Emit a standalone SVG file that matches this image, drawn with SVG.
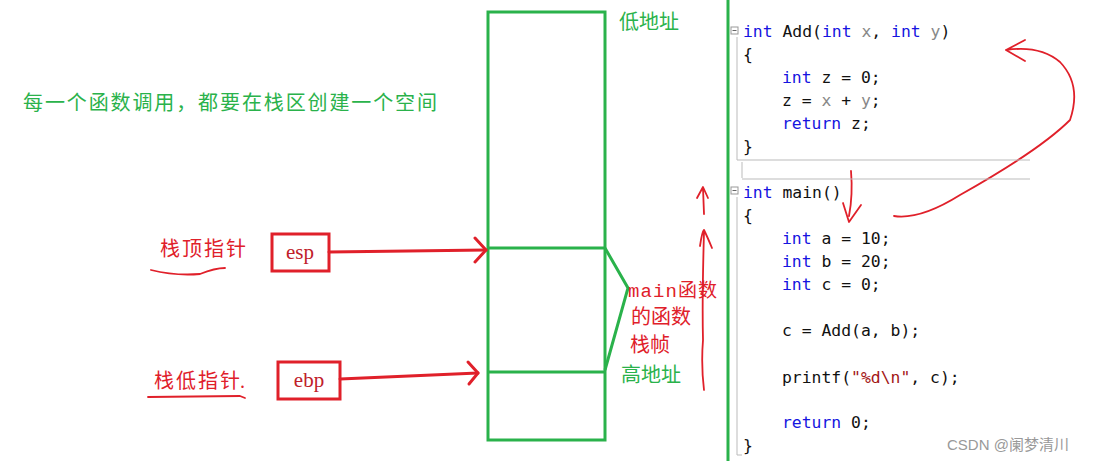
<svg xmlns="http://www.w3.org/2000/svg" width="1097" height="461" viewBox="0 0 1097 461">
<style>
.g{fill:none;stroke:#2ab24b;stroke-width:3}
.r{fill:none;stroke:#e0202a;stroke-width:3;stroke-linecap:round;stroke-linejoin:round}
.rt{fill:none;stroke:#e0202a;stroke-width:1.8;stroke-linecap:round;stroke-linejoin:round}
.gt{fill:#2ab24b;font-family:"Liberation Serif","Noto Sans CJK SC",serif;font-size:20px}
.rl{fill:#e0202a;font-family:"Liberation Serif","Noto Sans CJK SC",serif;font-size:20px}
.rm{fill:#e0202a;font-family:"Liberation Mono","Noto Sans CJK SC",monospace;font-size:19px}
.box{fill:#fff;stroke:#e0202a;stroke-width:3}
.bt{fill:#c0202a;font-family:"Liberation Serif",serif;font-size:21px;text-anchor:middle}
.code{font-family:"DejaVu Sans Mono","Liberation Mono",monospace;font-size:16.4px;fill:#111}
.k{fill:#1515e0}.p{fill:#888}.s{fill:#a31515}
.gut{stroke:#bbb;stroke-width:1;fill:none}
</style>
<rect width="1097" height="461" fill="#fff"/>
<text class="gt" x="23" y="110" textLength="414" lengthAdjust="spacing">每一个函数调用，都要在栈区创建一个空间</text>
<g id="stack">
<rect class="g" x="488" y="12" width="117" height="428"/>
<line class="g" x1="488" y1="248" x2="605" y2="248"/>
<line class="g" x1="488" y1="372" x2="605" y2="372"/>
<polyline class="g" points="605,248 628,288 605,370"/>
<text class="gt" x="619" y="29">低地址</text>
<text class="gt" x="621" y="382">高地址</text>
</g>
<g id="frame-label">
<text class="rm" x="628" y="297" textLength="89" lengthAdjust="spacing">main函数</text>
<text class="rl" x="631" y="324">的函数</text>
<text class="rl" x="630" y="352">栈帧</text>
</g>
<g id="esp-label">
<text class="rl" x="160" y="256" textLength="86" lengthAdjust="spacing">栈顶指针</text>
<path class="rt" d="M151,270 Q175,276 200,274 Q215,268 225,268"/>
</g>
<g id="esp"><rect class="box" x="272" y="234" width="57" height="37"/><text class="bt" x="300" y="259">esp</text></g>
<g id="ebp-label">
<text class="rl" x="154" y="388" textLength="86" lengthAdjust="spacing">栈低指针</text>
<text class="rl" x="240" y="388">.</text>
<path class="rt" d="M148,397 L240,396 L245,398"/>
</g>
<g id="ebp"><rect class="box" x="278" y="362" width="62" height="37"/><text class="bt" x="309" y="387">ebp</text></g>
<g id="connectors">
<line class="r" x1="329" y1="252" x2="486" y2="250"/>
<polyline class="r" points="475,238 486,250 475,262"/>
<line class="r" x1="340" y1="379" x2="478" y2="373"/>
<polyline class="r" points="468,362 478,373 469,384"/>
<path class="rt" d="M704,214 L703,188 M697,198 L703,187 L708,198"/>
<path class="rt" d="M700,246 Q702,232 704,230 Q707,236 712,248 M704,232 Q702,300 703,340 Q701,365 704,390"/>
<path class="rt" d="M851,171 Q853,195 849,216 M843,203 L849,222 L861,205"/>
<path class="rt" d="M894,216 Q920,220 960,195 Q1040,150 1070,120 Q1082,85 1060,62 Q1040,45 1006,50 M1025,40 L1006,50 L1025,61"/>
</g>
<g id="code">
<line x1="728" y1="0" x2="728" y2="461" stroke="#2ab24b" stroke-width="3"/>
<path class="gut" d="M737,37 V160 H742 M742,160 H1030 M742,162 V178 M742,179 H1030 M737,197 V455 H742"/>
<rect x="731" y="27" width="7" height="7" fill="#fff" stroke="#999" stroke-width="1"/><line x1="732.5" y1="30.5" x2="736.5" y2="30.5" stroke="#666"/>
<rect x="731" y="187" width="7" height="7" fill="#fff" stroke="#999" stroke-width="1"/><line x1="732.5" y1="190.5" x2="736.5" y2="190.5" stroke="#666"/>
<text class="code" x="743" y="37"><tspan class="k">int</tspan> Add(<tspan class="k">int</tspan> <tspan class="p">x</tspan>, <tspan class="k">int</tspan> <tspan class="p">y</tspan>)</text>
<text class="code" x="743" y="60">{</text>
<text class="code" x="782" y="83"><tspan class="k">int</tspan> z = 0;</text>
<text class="code" x="782" y="106">z = <tspan class="p">x</tspan> + <tspan class="p">y</tspan>;</text>
<text class="code" x="782" y="129"><tspan class="k">return</tspan> z;</text>
<text class="code" x="743" y="152">}</text>
<text class="code" x="743" y="198"><tspan class="k">int</tspan> main()</text>
<text class="code" x="743" y="221">{</text>
<text class="code" x="782" y="244"><tspan class="k">int</tspan> a = 10;</text>
<text class="code" x="782" y="267"><tspan class="k">int</tspan> b = 20;</text>
<text class="code" x="782" y="290"><tspan class="k">int</tspan> c = 0;</text>
<text class="code" x="782" y="336">c = Add(a, b);</text>
<text class="code" x="782" y="383">printf(<tspan class="s">"%d\n"</tspan>, c);</text>
<text class="code" x="782" y="428"><tspan class="k">return</tspan> 0;</text>
<text class="code" x="743" y="451">}</text>
</g>
<text x="947" y="450" fill="#999" font-family="Liberation Sans,'Noto Sans CJK SC',sans-serif" font-size="15">CSDN @阑梦清川</text>
</svg>
